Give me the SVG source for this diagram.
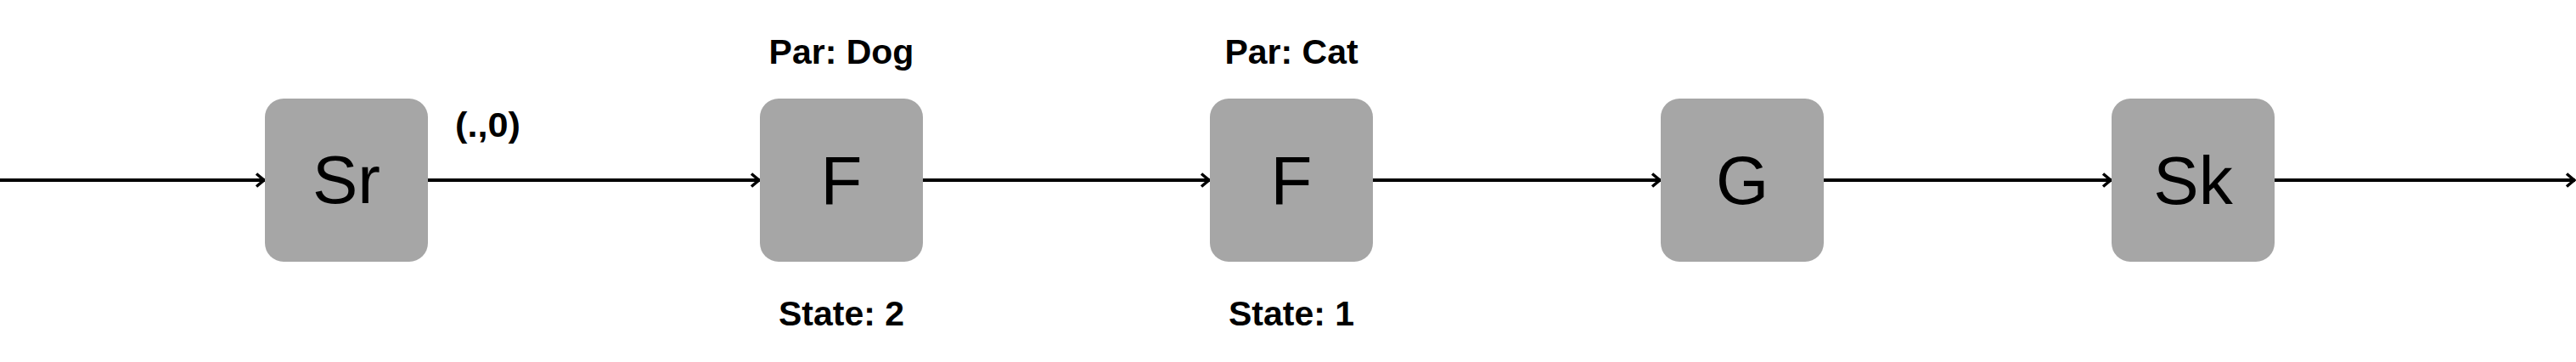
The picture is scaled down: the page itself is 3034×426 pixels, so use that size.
<svg xmlns="http://www.w3.org/2000/svg" width="3034" height="426" viewBox="0 0 3034 426">
<style>
.box{fill:#a6a6a6;}
.nt{font-family:"Liberation Sans",Arial,sans-serif;font-size:80px;fill:#000;text-anchor:middle;}
.lb{font-family:"Liberation Sans",Arial,sans-serif;font-size:41px;font-weight:bold;fill:#000;text-anchor:middle;}
.edge{stroke:#000;stroke-width:4;fill:none;marker-end:url(#arr);}
</style>
<defs>
<marker id="arr" markerUnits="userSpaceOnUse" markerWidth="24" markerHeight="24" viewBox="-16 -12 24 24" refX="0" refY="0" orient="auto" overflow="visible">
<path d="M-10,-7.5 L-1,0 L-10,7.5" fill="none" stroke="#000" stroke-width="3.5"/>
</marker>
</defs>
<rect width="3034" height="426" fill="#fff"/>
<g id="connectors">
<line class="edge" x1="0" y1="212" x2="312" y2="212"/>
<line class="edge" x1="504" y1="212" x2="895" y2="212"/>
<line class="edge" x1="1087" y1="212" x2="1425" y2="212"/>
<line class="edge" x1="1617" y1="212" x2="1956" y2="212"/>
<line class="edge" x1="2148" y1="212" x2="2487" y2="212"/>
<line class="edge" x1="2679" y1="212" x2="3033" y2="212"/>
<text class="lb" x="574.5" y="161" font-size="32" textLength="77" lengthAdjust="spacingAndGlyphs">(.,0)</text>
</g>
<g id="node-sr">
<rect class="box" x="312" y="116" width="192" height="192" rx="22"/>
<text class="nt" x="408" y="239">Sr</text>
</g>
<g id="node-f1">
<rect class="box" x="895" y="116" width="192" height="192" rx="22"/>
<text class="nt" x="991" y="240">F</text>
<text class="lb" x="991" y="75">Par: Dog</text>
<text class="lb" x="991" y="383">State: 2</text>
</g>
<g id="node-f2">
<rect class="box" x="1425" y="116" width="192" height="192" rx="22"/>
<text class="nt" x="1521" y="240">F</text>
<text class="lb" x="1521" y="75">Par: Cat</text>
<text class="lb" x="1521" y="383">State: 1</text>
</g>
<g id="node-g">
<rect class="box" x="1956" y="116" width="192" height="192" rx="22"/>
<text class="nt" x="2052" y="240">G</text>
</g>
<g id="node-sk">
<rect class="box" x="2487" y="116" width="192" height="192" rx="22"/>
<text class="nt" x="2583" y="240">Sk</text>
</g>
</svg>
